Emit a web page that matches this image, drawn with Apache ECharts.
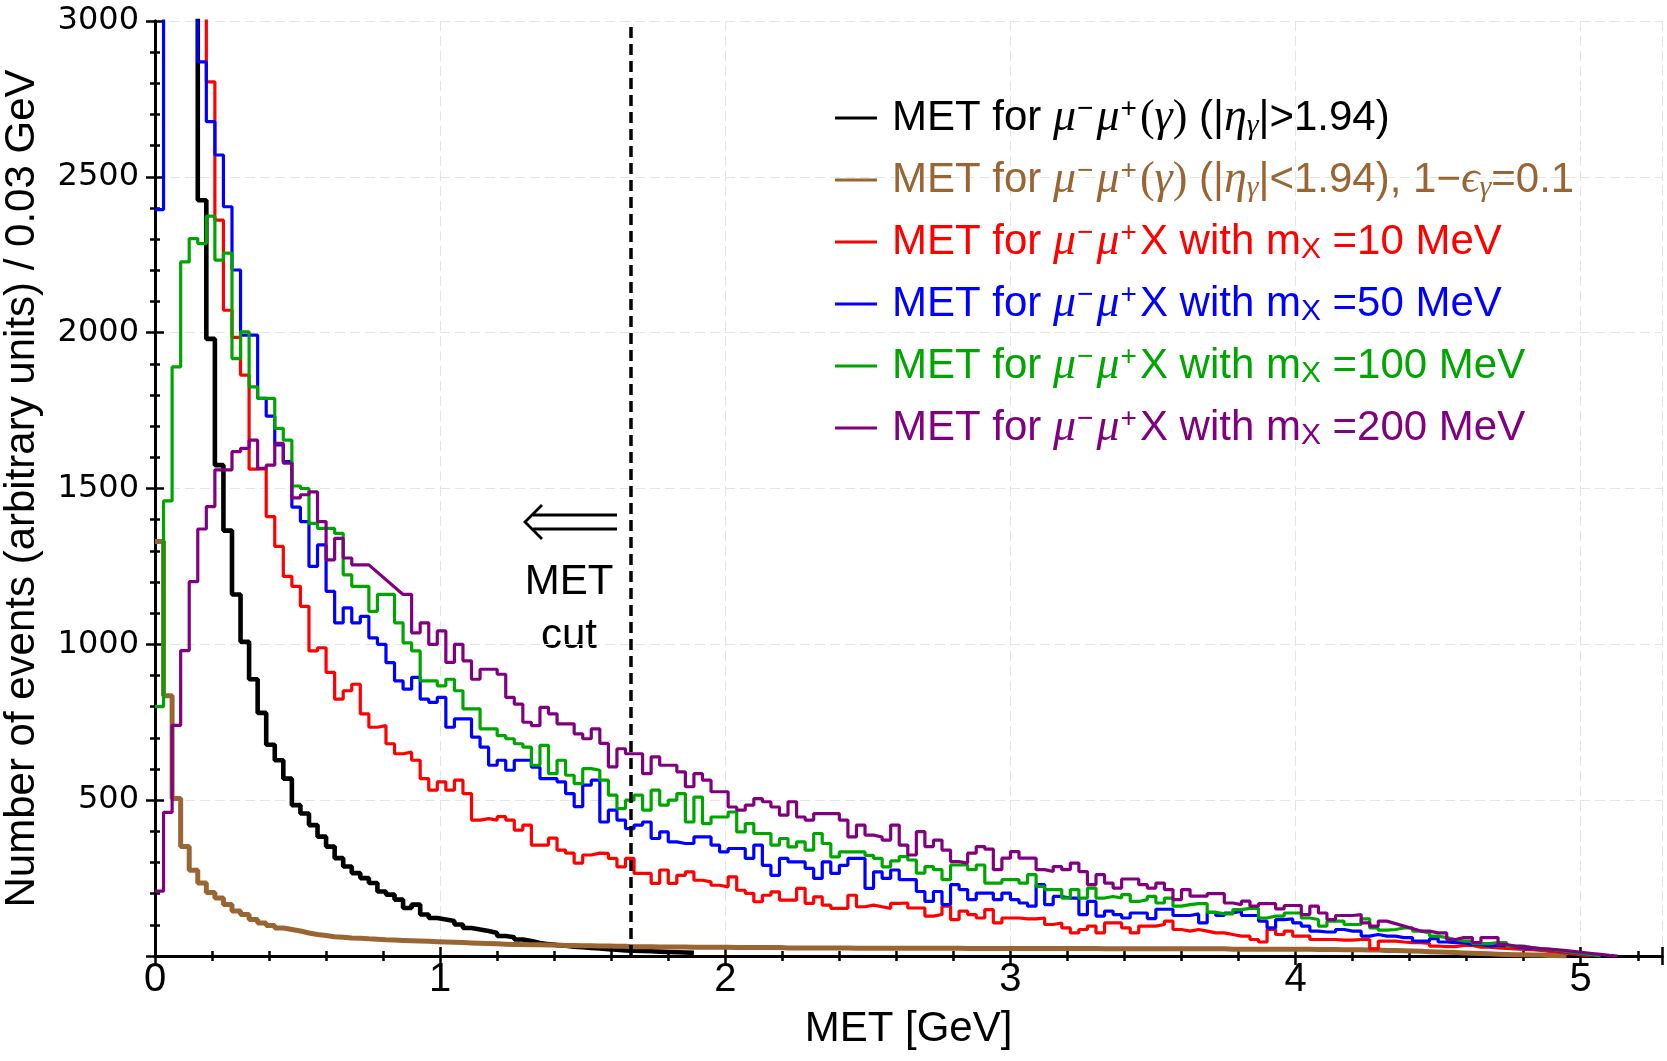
<!DOCTYPE html>
<html>
<head>
<meta charset="utf-8">
<title>MET distributions</title>
<script src="https://cdn.jsdelivr.net/npm/echarts@6/dist/echarts.min.js"></script>
<style>
  html, body { margin: 0; padding: 0; background: #fff; }
  #chart { width: 1667px; height: 1061px; }
</style>
</head>
<body>
<div id="chart"></div>
<script>
// histograms in 0.03 GeV bins starting at MET = 0
const binWidth = 0.03;
const metCut = 1.67;

const xTicks = [0, 1, 2, 3, 4, 5];
const yTicks = [500, 1000, 1500, 2000, 2500, 3000];

// mu- mu+ (gamma), |eta_gamma| > 1.94  (first bins run off the top)
const etaForward = [
  5200, 6400, 5800, 4600, 3500, 2425, 1980, 1575, 1365, 1160,
  1008, 888, 780, 678, 628, 569, 484, 457, 420, 383,
  351, 314, 287, 266, 250, 234, 207, 197, 181, 154,
  165, 133, 122, 117, 112, 101, 90, 85, 80, 74,
  64, 60, 53, 48, 42, 38, 35, 33, 30, 28,
  26, 24, 22, 20, 18, 17, 16, 15, 14, 13,
  12, 11, 10
];

// mu- mu+ (gamma), |eta_gamma| < 1.94, 1 - eps = 0.1
const etaCentral = [
  1330, 835, 505, 351, 275, 234, 204, 186, 165, 144,
  133, 117, 106, 98, 90, 85, 80, 74, 69, 66,
  62, 60, 58, 57, 55, 54, 52, 51, 50, 49,
  48, 47, 46, 45, 44, 43, 42, 41, 40, 39,
  38, 37, 37, 36, 36, 35, 35, 34, 34, 33,
  33, 32, 32, 31, 31, 30, 30, 30, 29, 29,
  29, 29, 28, 28, 28, 28, 28, 27, 27, 27,
  27, 27, 27, 26, 26, 26, 26, 26, 26, 26,
  26, 25, 25, 25, 25, 25, 25, 25, 25, 25,
  25, 25, 25, 25, 24, 24, 24, 24, 24, 24,
  24, 24, 24, 24, 24, 24, 24, 24, 24, 24,
  23, 23, 23, 23, 23, 23, 23, 23, 23, 23,
  23, 23, 23, 23, 23, 22, 22, 22, 22, 22,
  22, 22, 22, 22, 22,
  21, 21, 21, 20, 20, 20, 19, 19, 18, 18,
  17, 16, 15, 14, 13, 12, 11, 10, 9, 8,
  7, 6, 5, 4, 4, 3, 3, 2, 1, 0
];

// mu- mu+ X, m_X = 10 MeV
const mx10 = [
  4800, 6000, 5200, 4300, 3600, 3150, 2805, 2361, 2072, 1985,
  1864, 1562, 1564, 1410, 1314, 1218, 1186, 1122, 979, 989,
  910, 824, 851, 872, 777, 734, 739, 681, 649, 654,
  628, 569, 532, 559, 532, 564, 521, 436, 441, 436,
  447, 436, 404, 420, 356, 356, 378, 340, 330, 298,
  324, 330, 329, 313, 286, 313, 265, 265, 233, 276,
  233, 259, 270, 243, 238, 227, 222, 254, 211, 201,
  174, 195, 206, 179, 179, 217, 169, 190, 163, 153,
  153, 195, 158, 163, 158, 153, 169, 170, 154, 154,
  128, 133, 160, 117, 144, 133, 122, 149, 106, 122,
  122, 119, 119, 122, 101, 106, 90, 74, 85, 96,
  74, 106, 106, 90, 74, 96, 96, 101, 112, 85,
  80, 85, 80, 74, 74, 69, 64, 64, 53, 45,
  85, 69, 80, 64, 64, 53, 53, 53, 51, 51,
  53, 53, 23, 48, 48, 45, 43, 43, 40, 32,
  30, 30, 34, 34, 28, 28, 26, 24, 23, 21,
  20, 18, 15, 12, 9, 6, 3, 0
];

// mu- mu+ X, m_X = 50 MeV
const mx50 = [
  2395, 3900, 4300, 3900, 3300, 2869, 2677, 2570, 2404, 2201,
  1992, 1992, 1789, 1732, 1640, 1586, 1440, 1394, 1250, 1319,
  1170, 1069, 1117, 1069, 1090, 1021, 1000, 941, 883, 856,
  894, 824, 814, 830, 734, 761, 761, 702, 670, 612,
  628, 596, 628, 628, 606, 569, 569, 559, 521, 479,
  548, 564, 430, 468, 436, 409, 420, 430, 377, 398,
  366, 361, 361, 382, 382, 356, 334, 345, 345, 313,
  356, 291, 259, 313, 302, 302, 281, 249, 302, 265,
  291, 313, 313, 217, 270, 249, 276, 245, 245, 207,
  175, 207, 165, 229, 213, 181, 202, 202, 181, 202,
  181, 170, 160, 229, 165, 191, 186, 186, 133, 175,
  128, 144, 133, 122, 138, 138, 120, 150, 150, 130,
  130, 135, 106, 140, 130, 138, 144, 130, 130, 112,
  90, 117, 119, 106, 96, 80, 77, 77, 85, 80,
  80, 64, 69, 64, 64, 59, 59, 48, 48, 56,
  45, 43, 43, 37, 37, 32, 34, 34, 29, 27,
  24, 22, 20, 17, 14, 10, 6, 3, 0
];

// mu- mu+ X, m_X = 100 MeV
const mx100 = [
  800, 1460, 1890, 2227, 2302, 2286, 2374, 2233, 2255, 1917,
  2003, 1826, 1789, 1789, 1693, 1655, 1508, 1500, 1388, 1372,
  1372, 1356, 1223, 1186, 1186, 1106, 1160, 1160, 1069, 1005,
  979, 883, 883, 867, 888, 851, 793, 793, 729, 729,
  707, 697, 681, 670, 612, 676, 585, 628, 580, 553,
  601, 596, 564, 516, 473, 500, 516, 468, 532, 484,
  500, 521, 430, 510, 425, 446, 446, 462, 398, 425,
  393, 393, 356, 377, 350, 366, 340, 393, 361, 318,
  334, 334, 334, 323, 313, 286, 305, 319, 308, 266,
  287, 277, 245, 292, 292, 277, 292, 234, 234, 245,
  245, 234, 261, 223, 213, 213, 186, 213, 186, 218,
  186, 191, 186, 197, 175, 181, 191, 170, 186, 160,
  165, 168, 168, 140, 135, 135, 149, 153, 153, 122,
  128, 128, 138, 138, 122, 117, 96, 112, 112, 101,
  101, 119, 90, 83, 85, 90, 90, 80, 74, 64,
  59, 53, 48, 48, 40, 40, 43, 43, 32, 32,
  26, 23, 21, 18, 15, 11, 7, 4, 0
];

// mu- mu+ X, m_X = 200 MeV (null = bins missing in the original, drawn as a straight join)
const mx200 = [
  208, 461, 740, 980, 1201, 1370, 1442, 1560, 1560, 1618,
  1629, 1655, 1565, 1575, 1645, 1581, 1470, 1480, 1489, 1394,
  1271, 1340, 1277, 1255, 1255, null, null, null, null, 1160,
  1037, 1069, 1000, 1043, 942, 1000, 947, 888, 920, 920,
  904, 830, 808, 750, 739, 798, 777, 745, 745, 713,
  697, 729, 682, 607, 665, 649, 649, 585, 639, 612,
  612, 591, 543, 585, 564, 527, 527, 478, 468, 484,
  505, 495, 478, 452, 495, 446, 436, 457, 457, 457,
  436, 382, 420, 388, 382, 372, 420, 356, 324, 399,
  351, 372, 340, 303, 298, 330, 351, 343, 277, 314,
  335, 314, 314, 277, 271, 287, 277, 298, 271, 229,
  261, 234, 218, 247, 247, 229, 218, 234, 213, 181,
  213, 192, 192, 200, 200, 170, 165, 176, 160, 168,
  168, 151, 162, 162, 133, 160, 138, 117, 130, 130,
  133, 106, 96, 112, null, null, null, null, 80, 74,
  74, 53, 59, 59, 43, 59, 59, 37, 32, 30,
  27, 24, 22, 20, 17, 14, 11, 8, 5, 2, 0
];

const sans = "'Liberation Sans', Arial, Helvetica, sans-serif";
const wide = "'DejaVu Sans', 'Liberation Sans', sans-serif";
const serif = "'Liberation Serif', 'DejaVu Serif', serif";

const dimuon = '{g|μ}{sup|−}{g|μ}{sup|+}';
const seriesDefs = [
  { name: 'fwd', values: etaForward, color: '#000000', width: 4.6,
    label: '{gap| }{t|MET for }' + dimuon + '{p|(}{g|γ}{p|)}{t| (|}{g|η}{sub|γ}{t||>1.94)}' },
  { name: 'central', values: etaCentral, color: '#996633', width: 5,
    label: '{gap| }{t|MET for }' + dimuon + '{p|(}{g|γ}{p|)}{t| (|}{g|η}{sub|γ}{t||<1.94), 1−}{g|ϵ}{sub|γ}{t|=0.1}' },
  { name: 'mx10', values: mx10, color: '#ff0000', width: 3.2,
    label: '{gap| }{t|MET for }' + dimuon + '{t|X with m}{subx|X}{t| =10 MeV}' },
  { name: 'mx50', values: mx50, color: '#0000ff', width: 3.2,
    label: '{gap| }{t|MET for }' + dimuon + '{t|X with m}{subx|X}{t| =50 MeV}' },
  { name: 'mx100', values: mx100, color: '#00a600', width: 3.2,
    label: '{gap| }{t|MET for }' + dimuon + '{t|X with m}{subx|X}{t| =100 MeV}' },
  { name: 'mx200', values: mx200, color: '#800080', width: 3.2,
    label: '{gap| }{t|MET for }' + dimuon + '{t|X with m}{subx|X}{t| =200 MeV}' }
];

// step outline: each bin becomes a flat segment over its width
function stepPoints(values) {
  const pts = [];
  values.forEach((v, i) => {
    if (v === null) return;
    pts.push([i * binWidth, v], [(i + 1) * binWidth, v]);
  });
  return pts;
}

const chart = echarts.init(document.getElementById('chart'), null, { renderer: 'canvas' });

const frameLine = { show: true, lineStyle: { color: '#000', width: 3 } };
const majorTick = { show: true, inside: true, length: 9, lineStyle: { color: '#000', width: 2.5 } };
const minorTick = { show: true, splitNumber: 5, length: 5, lineStyle: { color: '#000', width: 2.5 } };
const gridLine = { show: true, lineStyle: { color: '#e4e4e4', width: 1, type: [10, 5] } };

const series = seriesDefs.map(s => ({
  name: s.name,
  type: 'line',
  data: stepPoints(s.values),
  showSymbol: false,
  symbol: 'none',
  color: s.color,
  lineStyle: { color: s.color, width: s.width },
  emphasis: { disabled: true },
  clip: true
}));

series[0].markLine = {
  silent: true,
  symbol: 'none',
  label: { show: false },
  lineStyle: { color: '#000', width: 3.5, type: [11, 6] },
  emphasis: { disabled: true },
  data: [{ xAxis: metCut }]
};

const option = {
  animation: false,
  backgroundColor: '#fff',
  grid: { left: 155, right: 5, top: 21, bottom: 105, containLabel: false, outerBoundsMode: 'none' },
  xAxis: [
    {
      type: 'value', min: 0, max: 5.285, interval: 1,
      name: 'MET [GeV]', nameLocation: 'middle', nameGap: 52,
      nameTextStyle: { fontFamily: sans, fontSize: 42, color: '#000' },
      axisLine: frameLine, axisTick: majorTick, minorTick: minorTick,
      splitLine: gridLine,
      axisLabel: {
        color: '#000', fontFamily: sans, fontSize: 40, margin: 4,
        showMaxLabel: false,
        formatter: v => (xTicks.includes(v) ? String(v) : '')
      }
    },
    {
      type: 'value', position: 'top', min: 0, max: 5.285, interval: 1,
      axisLine: frameLine, axisTick: majorTick, minorTick: minorTick,
      splitLine: { show: false }, axisLabel: { show: false }
    }
  ],
  yAxis: [
    {
      type: 'value', min: 0, max: 3000, interval: 500,
      name: 'Number of events (arbitrary units) / 0.03 GeV',
      nameLocation: 'middle', nameGap: 112,
      nameTextStyle: { fontFamily: sans, fontSize: 42, color: '#000' },
      axisLine: frameLine, axisTick: majorTick, minorTick: minorTick,
      splitLine: gridLine,
      axisLabel: {
        color: '#000', fontFamily: wide, fontSize: 32, margin: 16,
        showMinLabel: false,
        formatter: v => (yTicks.includes(v) ? String(v) : '')
      }
    },
    {
      type: 'value', position: 'right', min: 0, max: 3000, interval: 500,
      axisLine: frameLine, axisTick: majorTick, minorTick: minorTick,
      splitLine: { show: false }, axisLabel: { show: false }
    }
  ],
  legend: {
    orient: 'vertical', left: 835, top: 95, padding: 0, itemGap: 16,
    itemWidth: 42, itemHeight: 3, icon: 'rect', selectedMode: false,
    data: seriesDefs.map(s => ({ name: s.name, textStyle: { color: s.color } })),
    formatter: name => seriesDefs.find(s => s.name === name).label,
    textStyle: {
      fontFamily: sans, fontSize: 42,
      rich: {
        gap: { width: 10, fontSize: 10 },
        t: { fontFamily: sans, fontSize: 42, lineHeight: 46 },
        g: { fontFamily: serif, fontStyle: 'italic', fontSize: 46, lineHeight: 46 },
        p: { fontFamily: serif, fontSize: 44, lineHeight: 46 },
        sup: { fontFamily: sans, fontSize: 28, lineHeight: 20, verticalAlign: 'top', padding: [0, 3, 0, 1] },
        sub: { fontFamily: serif, fontStyle: 'italic', fontSize: 30, lineHeight: 14, verticalAlign: 'bottom' },
        subx: { fontFamily: sans, fontSize: 30, lineHeight: 18, verticalAlign: 'bottom' }
      }
    }
  },
  graphic: [
    { type: 'polyline', shape: { points: [[542, 505], [525, 522], [542, 539]] },
      style: { stroke: '#000', lineWidth: 2.8, fill: null } },
    { type: 'line', shape: { x1: 533, y1: 515, x2: 617, y2: 515 }, style: { stroke: '#000', lineWidth: 2.8 } },
    { type: 'line', shape: { x1: 533, y1: 529, x2: 617, y2: 529 }, style: { stroke: '#000', lineWidth: 2.8 } },
    { type: 'text', x: 569, y: 582,
      style: { text: 'MET', font: '42px ' + sans, fill: '#000', align: 'center', verticalAlign: 'middle' } },
    { type: 'text', x: 569, y: 636,
      style: { text: 'cut', font: '42px ' + sans, fill: '#000', align: 'center', verticalAlign: 'middle' } }
  ],
  series: series
};

chart.setOption(option);
</script>
</body>
</html>
